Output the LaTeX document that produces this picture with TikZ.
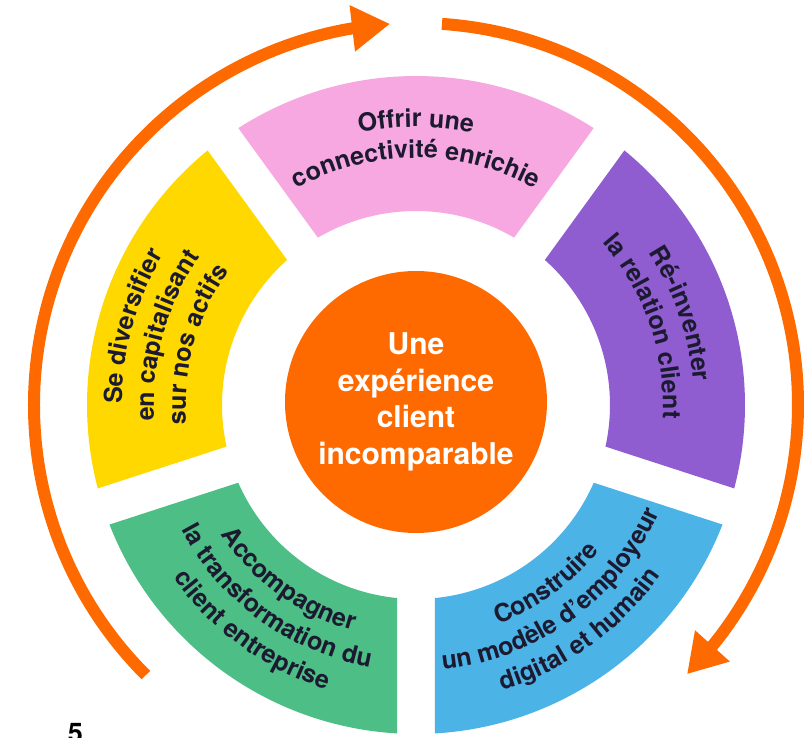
\documentclass[tikz,border=0pt]{standalone}
\usepackage{fontspec}
\setmainfont{TeX Gyre Heros}
\usetikzlibrary{decorations.text, arrows.meta, bending}
\definecolor{cPink}{HTML}{F8A8E0}
\definecolor{cYellow}{HTML}{FFD800}
\definecolor{cPurple}{HTML}{8F5DD0}
\definecolor{cGreen}{HTML}{4CBE86}
\definecolor{cBlue}{HTML}{4BB3E6}
\definecolor{cOrange}{HTML}{FF6A00}
\definecolor{cText}{HTML}{1C1A30}
\newcommand\segfont{\fontsize{25}{31}\selectfont\bfseries\color{cText}}
% radius, start angle, end angle, text
\newcommand\arctext[4]{%
  \path[decorate, decoration={text along path, text align=center, text={|\segfont|#4}}]
    (#2:#1) arc[start angle=#2, end angle=#3, radius=#1];}
\begin{document}
\begin{tikzpicture}[x=1pt, y=1pt,
  ring/.style={line width=12pt, draw=cOrange},
  tipstyle/.style={-{Triangle[length=38pt, width=44pt, flex]}},
  core/.style={circle, fill=cOrange, minimum size=262pt, inner sep=0pt, align=center,
    text=white, font=\fontsize{30}{36.5}\selectfont\bfseries}
]
\useasboundingbox (-416,-333) rectangle (396,405);
\fill[white] (-416,-333) rectangle (396,405);

% segments
\fill[cPink]   (57.31:329) arc[start angle=57.31, end angle=122.69, radius=329]
  -- (120.38:194) arc[start angle=120.38, end angle=59.62, radius=194] -- cycle;
\fill[cYellow] (129.31:329) arc[start angle=129.31, end angle=194.69, radius=329]
  -- (192.38:194) arc[start angle=192.38, end angle=131.62, radius=194] -- cycle;
\fill[cGreen]  (201.31:329) arc[start angle=201.31, end angle=266.69, radius=329]
  -- (264.38:194) arc[start angle=264.38, end angle=203.62, radius=194] -- cycle;
\fill[cBlue]   (273.31:329) arc[start angle=273.31, end angle=338.69, radius=329]
  -- (336.38:194) arc[start angle=336.38, end angle=275.62, radius=194] -- cycle;
\fill[cPurple] (-14.69:329) arc[start angle=-14.69, end angle=50.69, radius=329]
  -- (48.38:194) arc[start angle=48.38, end angle=-12.38, radius=194] -- cycle;

% centre
\node[core] (coeur) at (0,3) {Une\\expérience\\client\\incomparable};

% segment texts
\arctext{278}{150}{30}{Offrir une}
\arctext{247}{150}{30}{connectivité enrichie}
\arctext{294}{224.5}{104.5}{Se diversifier}
\arctext{262}{224.5}{104.5}{en capitalisant}
\arctext{230}{224.5}{104.5}{sur nos actifs}
\arctext{278}{79}{-41}{Ré-inventer}
\arctext{247}{79}{-41}{la relation client}
\arctext{234}{174}{294}{Accompagner}
\arctext{266}{174}{294}{la transformation du}
\arctext{298}{174}{294}{client entreprise}
\arctext{234}{246}{366}{Construire}
\arctext{266}{246}{366}{un modèle d’employeur}
\arctext{298}{246}{366}{digital et humain}

% orange cycle arrows
\coordinate (leftstart) at (225:382);
\coordinate (rightstart) at (86.1:382);
\draw[ring, tipstyle] (leftstart) arc[start angle=225, end angle=93.9, radius=382];
\draw[ring, tipstyle] (rightstart) arc[start angle=86.1, end angle=-44.8, radius=382];

% stray page number
\node[anchor=base, font=\fontsize{27}{30}\selectfont\bfseries, text=black, inner sep=0pt]
  (pagenum) at (-340.5,-338) {5};
\end{tikzpicture}
\end{document}
